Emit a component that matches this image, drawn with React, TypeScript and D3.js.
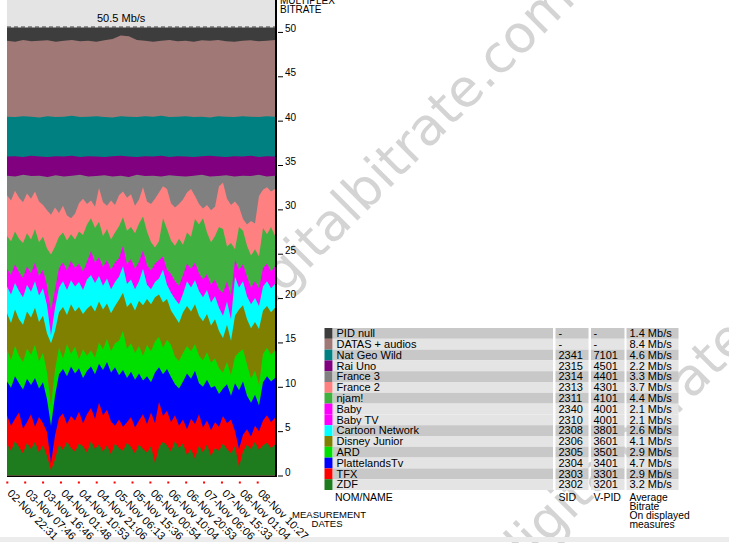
import React from "react";
import * as d3 from "d3";

// ---------- data ----------
const dateLabels = [
  "02-Nov 22:31", "03-Nov 07:46", "03-Nov 16:46", "04-Nov 01:48", "04-Nov 10:53",
  "04-Nov 21:06", "05-Nov 06:13", "05-Nov 15:36", "06-Nov 00:54", "06-Nov 10:04",
  "06-Nov 20:53", "07-Nov 06:06", "07-Nov 15:33", "08-Nov 01:04", "08-Nov 10:27",
];
const yTicks = [0, 5, 10, 15, 20, 25, 30, 35, 40, 45, 50];
const multiplexMax = 50.5;

// legend table
const channelNames = ["PID null", "DATAS + audios", "Nat Geo Wild", "Rai Uno", "France 3", "France 2", "njam!", "Baby", "Baby TV", "Cartoon Network", "Disney Junior", "ARD", "PlattelandsTv", "TFX", "ZDF"];
const channelSids = ["-", "-", "2341", "2315", "2314", "2313", "2311", "2340", "2310", "2308", "2306", "2305", "2304", "2303", "2302"];
const channelVpids = ["-", "-", "7101", "4501", "4401", "4301", "4101", "4001", "4001", "3801", "3601", "3501", "3401", "3301", "3201"];
const channelAvg = ["1.4 Mb/s", "8.4 Mb/s", "4.6 Mb/s", "2.2 Mb/s", "3.3 Mb/s", "3.7 Mb/s", "4.4 Mb/s", "2.1 Mb/s", "2.1 Mb/s", "2.6 Mb/s", "4.1 Mb/s", "2.9 Mb/s", "4.7 Mb/s", "2.9 Mb/s", "3.2 Mb/s"];
const channelColors = ["#3d3d3d", "#a07876", "#008080", "#800080", "#808080", "#ff8080", "#40b040", "#ff00ff", "#ff00ff", "#00ffff", "#808000", "#00e000", "#0000ff", "#ff0000", "#1e7b1e"];
const rowDark = [1, 0, 1, 0, 1, 0, 1, 0, 0, 1, 0, 1, 0, 1, 0];

// cumulative stack tops (Mb/s), top layer first
const pidTop = [50.5, 50.5];
const datasTop = [49.0, 48.9, 49.1, 48.95, 49.0, 49.05, 48.9, 49.0, 49.1, 48.95, 49.0, 48.9, 49.05, 49.2, 49.6, 49.5, 49.1, 49.0, 48.9, 49.0, 49.1, 48.95, 49.0, 48.9, 49.05, 49.0, 49.1, 48.95, 48.9, 49.0, 49.05, 48.95, 49.0, 49.1];
const natgeoTop = [40.45, 40.4, 40.5, 40.45, 40.35, 40.5, 40.4, 40.45, 40.55, 40.4, 40.45, 40.5, 40.4, 40.35, 40.5, 40.45, 40.4, 40.5, 40.45, 40.55, 40.4, 40.45, 40.5, 40.4, 40.45, 40.35, 40.5, 40.45, 40.4, 40.5, 40.45, 40.4, 40.5, 40.45];
const raiTop = [35.95, 36.0, 35.9, 36.05, 35.95, 35.9, 36.0, 35.95, 36.05, 35.9, 36.0, 35.95, 35.9, 36.0, 36.05, 35.95, 35.9, 36.0, 35.95, 36.05, 35.9, 36.0, 35.95, 35.9, 36.0, 36.05, 35.95, 35.9, 36.0, 35.95, 36.05, 35.9, 36.0, 35.95];
const france3Top = [33.8, 33.7, 33.9, 33.75, 33.8, 33.65, 33.85, 33.7, 33.8, 33.9, 33.7, 33.75, 33.85, 33.7, 33.8, 33.65, 33.9, 33.75, 33.8, 33.7, 33.85, 33.75, 33.7, 33.8, 33.9, 33.7, 33.75, 33.85, 33.7, 33.8, 33.75, 33.9, 33.7, 33.8];
const france2Top = [
  31.6, 31.0, 32.1, 31.3, 30.8, 31.8, 31.2, 32.0, 30.9, 30.5,
  29.9, 29.4, 30.2, 29.6, 30.4, 29.3, 29.0, 29.5, 30.7, 31.2,
  30.6, 31.0, 30.3, 32.4, 30.8, 30.4, 31.0, 30.5, 31.6, 32.0,
  31.3, 31.7, 30.4, 31.1, 32.5, 30.9, 30.6, 31.2, 31.9, 32.6,
  32.3, 30.7, 30.2, 30.6, 31.1, 31.9, 32.3, 31.5, 30.6, 30.1,
  30.5, 29.9, 30.3, 32.6, 33.0, 31.2, 30.5, 30.9, 30.3, 28.9,
  28.3, 28.7, 28.4, 31.5, 32.2, 32.5, 32.0, 32.3,
];
const njamTop = [
  27.0, 26.4, 27.5, 26.7, 26.2, 27.3, 26.6, 27.8, 26.3, 26.9,
  25.6, 24.9, 25.8, 26.9, 27.4, 26.5, 27.2, 26.6, 27.5, 27.1,
  28.3, 29.0, 27.9, 28.6, 27.0, 27.8, 26.6, 27.4, 28.1, 29.1,
  27.6, 28.0, 27.3, 28.4, 29.2, 27.5, 26.3, 25.7, 26.4, 29.0,
  27.8, 26.5, 25.9, 26.7, 26.0, 27.4, 26.9, 28.9, 28.3, 29.0,
  27.4, 26.3, 27.0, 28.0, 27.8, 25.8, 26.2, 25.5, 28.0, 27.6,
  25.9, 24.8, 25.5, 24.7, 27.9, 27.2, 28.0, 27.0,
];
const babyTop = [
  23.3, 22.6, 23.8, 22.9, 22.3, 23.6, 22.8, 24.0, 22.5, 23.2,
  21.4, 18.6, 21.0, 23.4, 24.0, 23.1, 24.2, 23.4, 23.9, 23.0,
  24.1, 25.3, 24.0, 24.6, 23.5, 24.3, 23.2, 24.0, 24.5, 25.9,
  23.8, 24.4, 23.3, 24.1, 25.4, 23.7, 23.1, 23.9, 24.3, 24.7,
  23.2, 22.7, 21.9, 21.4, 22.6, 23.9, 23.3, 24.0, 22.8, 22.1,
  22.7, 21.5, 22.1, 21.0, 20.6, 21.9, 20.3, 24.3, 23.2, 23.8,
  22.4, 21.2, 21.9, 21.1, 23.4, 23.9, 23.0, 23.6,
];
const cartoonTop = [
  21.3, 20.4, 21.7, 20.8, 20.1, 21.5, 20.7, 21.9, 20.3, 21.1,
  19.2, 15.8, 18.9, 21.2, 21.9, 20.9, 22.0, 21.3, 21.8, 20.9,
  22.1, 22.6, 21.7, 22.5, 21.4, 22.2, 21.0, 21.8, 22.4, 23.6,
  21.6, 22.1, 21.0, 21.9, 23.3, 21.5, 21.0, 21.8, 22.2, 23.2,
  21.5, 20.6, 19.9, 19.3, 20.5, 21.9, 21.2, 22.0, 20.8, 20.1,
  20.9, 19.5, 20.2, 18.9, 18.0, 19.6, 17.6, 22.4, 21.2, 21.9,
  20.2, 19.3, 20.0, 19.1, 21.3, 21.9, 21.1, 21.6,
];
const disneyTop = [
  18.3, 17.2, 18.7, 17.6, 17.0, 18.5, 17.8, 18.9, 17.3, 18.0,
  16.0, 14.9, 16.3, 18.4, 19.0, 18.1, 19.3, 18.5, 19.0, 18.2,
  18.8, 19.2, 18.5, 19.6, 18.7, 19.4, 18.3, 19.1, 19.8, 20.6,
  19.0, 19.5, 18.6, 19.7, 19.2, 19.9, 19.3, 20.1, 20.4, 19.5,
  19.9, 18.6, 17.9, 17.2, 18.4, 19.1, 18.5, 19.3, 18.0, 17.4,
  18.2, 16.9, 17.6, 16.3, 15.5, 17.0, 15.2, 18.0, 18.7, 19.2,
  17.6, 16.6, 17.3, 16.5, 18.6, 19.1, 18.4, 18.9,
];
const ardTop = [
  14.2, 13.0, 14.6, 13.5, 12.8, 14.3, 13.6, 14.7, 12.9, 13.8,
  11.6, 7.8, 11.9, 14.4, 13.2, 14.8, 13.7, 14.5, 13.1, 14.2,
  13.5, 14.1, 13.3, 15.0, 14.2, 15.4, 14.0, 14.9, 15.2, 16.3,
  14.3, 14.9, 13.8, 14.6, 13.5, 14.7, 14.0, 15.1, 15.6, 14.4,
  15.3, 14.7, 13.4, 12.9, 13.8, 14.6, 14.0, 14.8, 13.5, 13.0,
  13.9, 12.7, 13.2, 12.1, 11.6, 12.8, 11.3, 13.4, 13.9, 14.2,
  12.5, 10.9, 11.8, 10.2, 13.7, 14.4, 13.6, 14.1,
];
const plattTop = [
  10.6, 9.9, 11.2, 10.4, 9.7, 10.9, 10.2, 11.0, 9.8, 10.5,
  8.6, 5.6, 9.0, 11.4, 12.0, 11.2, 12.3, 11.5, 12.1, 11.0,
  11.8, 12.3, 11.4, 12.6, 11.9, 12.8, 11.6, 12.2, 11.3, 11.9,
  11.0, 11.7, 10.8, 11.5, 10.7, 11.2, 10.5, 11.6, 12.2, 11.4,
  12.0, 11.1, 10.3, 9.8, 10.6, 11.5, 10.9, 11.8, 10.4, 10.0,
  10.8, 9.9, 10.1, 9.2, 9.8, 10.3, 9.0, 10.4, 9.6, 10.6,
  9.0, 8.2, 9.1, 7.9, 10.5, 11.2, 10.6, 11.0,
];
const tfxTop = [
  6.8, 5.6, 6.4, 7.1, 5.3, 6.0, 6.9, 5.5, 6.6, 5.9,
  4.9, 1.4, 4.5, 6.5, 7.0, 5.8, 6.7, 6.2, 7.2, 5.9,
  6.9, 7.6, 6.4, 8.2, 6.8, 7.4, 6.1, 5.6, 6.3, 5.5,
  6.0, 6.6, 5.4, 6.2, 6.9, 5.8, 7.1, 5.9, 8.3, 6.7,
  7.3, 6.0, 6.8, 5.6, 6.3, 5.2, 6.4, 5.8, 6.9, 5.4,
  6.2, 5.1, 6.0, 5.5, 6.7, 5.9, 6.3, 5.0, 3.0, 4.6,
  5.2, 4.4, 5.6, 5.0, 6.2, 6.8, 6.0, 6.5,
];
const zdfTop = [
  3.6, 2.8, 3.9, 3.2, 2.5, 3.7, 3.0, 3.8, 2.6, 3.4,
  2.2, 0.6, 1.8, 3.5, 2.9, 3.8, 3.1, 2.7, 3.6, 3.3,
  2.6, 3.9, 3.0, 3.5, 2.7, 3.4, 2.4, 3.6, 3.1, 2.8,
  3.7, 3.2, 2.5, 3.5, 3.0, 2.6, 3.3, 1.4, 3.2, 3.8,
  3.4, 2.7, 3.9, 3.1, 3.6, 2.3, 3.0, 1.9, 3.4, 2.6,
  3.5, 2.2, 3.1, 2.8, 3.6, 3.0, 2.5, 3.3, 1.0, 2.7,
  3.5, 3.0, 3.8, 2.9, 3.4, 3.7, 3.1, 3.5,
];
const layerTops = [pidTop, datasTop, natgeoTop, raiTop, france3Top, france2Top, njamTop, babyTop, cartoonTop, disneyTop, ardTop, plattTop, tfxTop, zdfTop];
const layerColors = ["#3d3d3d", "#a07876", "#008080", "#800080", "#808080", "#ff8080", "#40b040", "#ff00ff", "#00ffff", "#808000", "#00e000", "#0000ff", "#ff0000", "#1e7b1e"];

const watermark = "digitalbitrate.com";

const FONT = "'Liberation Sans', Arial, sans-serif";

export default function App() {
  const plotLeft = 7;
  const plotRight = 275;
  const y = d3.scaleLinear().domain([0, multiplexMax]).range([475.5, 27.5]);
  const tickX = d3.scaleLinear().domain([0, dateLabels.length]).range([7.3, 275.6]);

  const rowY = d3.scaleLinear().domain([0, channelNames.length]).range([328, 490]);
  const rowH = rowY(1) - rowY(0);

  return (
    <svg
      width={729}
      height={543}
      style={{ position: "absolute", left: 0, top: 0, background: "#fff" }}
      fontFamily={FONT}
    >
      <rect x={0} y={0} width={729} height={543} fill="#fff" />
      {/* watermarks */}
      {[[250, 328], [514, 578]].map(([wx, wy], k) => (
        <text
          key={k}
          transform={`translate(${wx},${wy}) rotate(-45)`}
          fontFamily="'DejaVu Sans', Verdana, sans-serif"
          fontSize={52}
          fill="#d4d4d4"
        >
          {watermark}
        </text>
      ))}
      <rect x={0} y={537} width={729} height={5} fill="#ececec" />

      {/* plot background */}
      <rect x={plotLeft} y={0} width={plotRight - plotLeft} height={476} fill="#e4e4e4" />
      {layerTops.map((top, k) => {
        const xs = d3.scaleLinear().domain([0, top.length - 1]).range([plotLeft, plotRight]);
        const area = d3
          .area<number>()
          .x((_, i) => xs(i))
          .y0(y(0))
          .y1((d) => y(d));
        return <path key={k} d={area(top) || ""} fill={layerColors[k]} />;
      })}
      <line
        x1={plotLeft}
        x2={plotRight}
        y1={y(multiplexMax) - 0.5}
        y2={y(multiplexMax) - 0.5}
        stroke="#3d3d3d"
        strokeDasharray="4 3"
      />
      <text x={97} y={22} fontSize={11}>50.5 Mb/s</text>
      <line x1={plotLeft} x2={277} y1={476.5} y2={476.5} stroke="#000" strokeWidth={1} />
      <line x1={276} x2={276} y1={0} y2={477} stroke="#000" strokeWidth={2} />

      {/* y axis */}
      <text x={280} y={4} fontSize={10}>MULTIPLEX</text>
      <text x={280} y={13} fontSize={10}>BITRATE</text>
      {yTicks.map((t) => (
        <g key={t}>
          <line x1={278} x2={283} y1={y(t) + 0.5} y2={y(t) + 0.5} stroke="#000" />
          <text x={285} y={y(t)} fontSize={10}>{t}</text>
        </g>
      ))}

      {/* x axis */}
      {dateLabels.map((lab, i) => (
        <g key={lab}>
          <rect x={tickX(i) - 1} y={481.5} width={2} height={2} fill="#ff0000" />
          <text transform={`translate(${tickX(i) - 0.5},494) rotate(45)`} fontSize={11}>
            {lab}
          </text>
        </g>
      ))}
      <text x={329} y={518} fontSize={9.5} textAnchor="middle">MEASUREMENT</text>
      <text x={327} y={526.5} fontSize={9.5} textAnchor="middle">DATES</text>

      {/* legend table */}
      {channelNames.map((name, i) => {
        const top = rowY(i);
        const fill = rowDark[i] ? "#c8c8c8" : "#e4e4e4";
        const base = top + 9.2;
        return (
          <g key={name}>
            <rect x={324.5} y={top} width={8} height={rowH} fill={channelColors[i]} />
            <rect x={333} y={top} width={220} height={rowH} fill={fill} />
            <rect x={555.5} y={top} width={33} height={rowH} fill={fill} />
            <rect x={591} y={top} width={33.5} height={rowH} fill={fill} />
            <rect x={626.5} y={top} width={52} height={rowH} fill={fill} />
            <text x={336.5} y={base} fontSize={11}>{name}</text>
            <text x={558.5} y={base} fontSize={11}>{channelSids[i]}</text>
            <text x={593.5} y={base} fontSize={11}>{channelVpids[i]}</text>
            <text x={629.5} y={base} fontSize={11}>{channelAvg[i]}</text>
          </g>
        );
      })}
      <text x={335} y={501} fontSize={10.5}>NOM/NAME</text>
      <text x={558.5} y={501} fontSize={10.5}>SID</text>
      <text x={593.5} y={501} fontSize={10.5}>V-PID</text>
      <text x={629.5} y={500.5} fontSize={10.3}>Average</text>
      <text x={629.5} y={509.6} fontSize={10.3}>Bitrate</text>
      <text x={629.5} y={518.8} fontSize={10.3}>On displayed</text>
      <text x={629.5} y={527.9} fontSize={10.3}>measures</text>
    </svg>
  );
}
